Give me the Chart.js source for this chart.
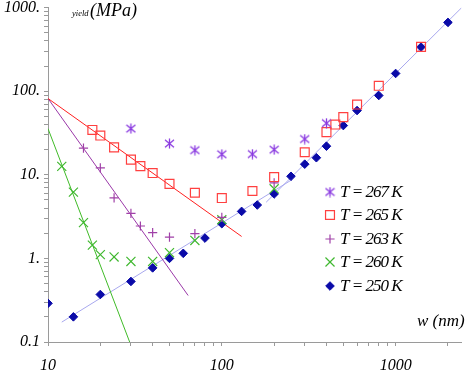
<!DOCTYPE html>
<html><head><meta charset="utf-8">
<script src="https://cdn.jsdelivr.net/npm/chart.js@4.4.1/dist/chart.umd.min.js"></script>
<style>html,body{margin:0;padding:0;background:#fff}#wrap{width:469px;height:371px;}</style>
</head><body><div id="wrap"><canvas id="c" width="469" height="371"></canvas></div>
<script>
// ---- data ----
const labels = ['T = 267 K', 'T = 265 K', 'T = 263 K', 'T = 260 K', 'T = 250 K'];

const x267 = [30, 50, 70, 100, 150, 200, 300, 400];
const y267 = [35.7, 23.6, 19.7, 17.6, 17.7, 20.0, 26.8, 41.5];

const x265 = [18, 20, 24, 30, 34, 40, 50, 70, 100, 150, 200, 300, 400, 450, 500, 600, 800, 1400];
const y265 = [34.4, 29.5, 21.3, 15.2, 12.7, 10.5, 7.8, 6.1, 5.27, 6.4, 9.4, 18.6, 32.4, 39.9, 48.9, 69.2, 116, 339];

const x263 = [16, 20, 24, 30, 34, 40, 50, 70, 100, 200];
const y263 = [20.9, 12.1, 5.3, 3.46, 2.44, 2.03, 1.80, 1.98, 3.1, 8.0];

const x260 = [12, 14, 16, 18, 20, 24, 30, 40, 50, 70, 100, 200];
const y260 = [12.6, 6.2, 2.68, 1.44, 1.11, 1.04, 0.92, 0.92, 1.17, 1.64, 2.9, 6.8];

const x250 = [10, 14, 20, 30, 40, 50, 60, 80, 100, 130, 160, 200, 250, 300, 350, 400, 500, 600, 800, 1000, 1400, 2000];
const y250 = [0.29, 0.20, 0.37, 0.53, 0.77, 1.0, 1.15, 1.75, 2.6, 3.65, 4.35, 5.9, 9.6, 13.4, 16.0, 22.0, 38.8, 58.7, 88.8, 163, 337, 665];

// fitted lines (end points)
const fit265x = [10, 130],  fit265y = [81.8, 1.83];
const fit263x = [10, 64],   fit263y = [81.8, 0.36];
const fit260x = [10, 29.5], fit260y = [35.7, 0.1];
const fit250ax = [12, 250], fit250ay = [0.173, 8.6];
const fit250bx = [180, 2400], fit250by = [4.7, 1000];

// axis ticks
const xMajor = [10, 100, 1000];
const xTickLabels = ['10', '100', '1000'];
const yMajor = [0.1, 1, 10, 100, 1000];
const yTickLabels = ['0.1', '1.', '10.', '100.', '1000.'];

// ---- styling ----
const C267 = '#8a3ae0', C265 = '#ff4040', C263 = '#a040a8', C260 = '#40b830', C250 = '#0a0aa8';
const FONT = '"Liberation Serif", "Times New Roman", serif';

function pts(xs, ys) { return xs.map((x, i) => ({ x: x, y: ys[i] })); }

function asteriskImg(size, color, lw) {
  const c = document.createElement('canvas');
  c.width = c.height = size;
  const g = c.getContext('2d');
  g.strokeStyle = color; g.lineWidth = lw;
  const m = size / 2, rv = size / 2 - 0.6, rx = size / 2 - 1, ry = size / 2 - 1.8;
  g.beginPath();
  g.moveTo(m, m - rv); g.lineTo(m, m + rv);
  g.moveTo(m - rx, m - ry); g.lineTo(m + rx, m + ry);
  g.moveTo(m - rx, m + ry); g.lineTo(m + rx, m - ry);
  g.stroke();
  return c;
}
const astImg = asteriskImg(11, C267, 1.3);

function minorTicks(lo, hi) {
  const out = [];
  for (let d = lo; d < hi; d *= 10) for (let m = 1; m < 10; m++) out.push(+(m * d).toPrecision(4));
  out.push(hi);
  return out;
}

const markerDs = (label, data, style, color, radius, bw, fill) => ({
  type: 'scatter', label, data, order: 1, showLine: false,
  pointStyle: style, pointRadius: radius, pointBorderWidth: bw,
  pointBorderColor: color, pointBackgroundColor: fill ? color : 'rgba(0,0,0,0)'
});
const lineDs = (data, color) => ({
  type: 'scatter', label: '', data, order: 10, showLine: true, borderColor: color,
  borderWidth: 1, pointRadius: 0, fill: false
});

const datasets = [
  markerDs(labels[0], pts(x267, y267), astImg, C267, 5, 1.3, false),
  markerDs(labels[1], pts(x265, y265), 'rect', C265, 6.3, 1.2, false),
  markerDs(labels[2], pts(x263, y263), 'cross', C263, 4.6, 1.2, false),
  markerDs(labels[3], pts(x260, y260), 'crossRot', C260, 6.4, 1.2, false),
  markerDs(labels[4], pts(x250, y250), 'rectRot', C250, 4.3, 1, true),
  lineDs(pts(fit265x, fit265y), '#ff2020'),
  lineDs(pts(fit263x, fit263y), '#9a38a8'),
  lineDs(pts(fit260x, fit260y), '#40bb28'),
  lineDs(pts(fit250ax, fit250ay), '#a8a8ee'),
  lineDs(pts(fit250bx, fit250by), '#a8a8ee')
];

const legendRows = [192, 215, 239, 262, 286];

const annot = {
  id: 'annot',
  afterDraw(chart) {
    const ctx = chart.ctx;
    ctx.save();
    ctx.fillStyle = '#000';
    ctx.textBaseline = 'alphabetic';
    ctx.textAlign = 'left';
    ctx.font = 'italic 8.5px ' + FONT;
    ctx.fillText('yield', 72, 16);
    ctx.font = 'italic 18px ' + FONT;
    ctx.fillText('(MPa)', 90, 16);
    ctx.font = 'italic 17px ' + FONT;
    ctx.fillText('w (nm)', 417, 326);

    // legend
    const lx = 330;
    datasets.slice(0, 5).forEach((ds, i) => {
      const y = legendRows[i];
      ctx.save();
      ctx.strokeStyle = ds.pointBorderColor;
      ctx.fillStyle = ds.pointBorderColor;
      ctx.lineWidth = ds.pointBorderWidth;
      const r = ds.pointRadius;
      ctx.beginPath();
      if (ds.pointStyle === 'rect') {
        const s = Math.SQRT1_2 * r;
        ctx.rect(lx - s, y - s, 2 * s, 2 * s); ctx.stroke();
      } else if (ds.pointStyle === 'cross') {
        ctx.moveTo(lx - r, y); ctx.lineTo(lx + r, y); ctx.moveTo(lx, y - r); ctx.lineTo(lx, y + r); ctx.stroke();
      } else if (ds.pointStyle === 'crossRot') {
        const o = r * Math.SQRT1_2;
        ctx.moveTo(lx - o, y - o); ctx.lineTo(lx + o, y + o); ctx.moveTo(lx - o, y + o); ctx.lineTo(lx + o, y - o); ctx.stroke();
      } else if (ds.pointStyle === 'rectRot') {
        ctx.moveTo(lx - r, y); ctx.lineTo(lx, y - r); ctx.lineTo(lx + r, y); ctx.lineTo(lx, y + r); ctx.closePath();
        ctx.fill(); ctx.stroke();
      } else {
        ctx.drawImage(ds.pointStyle, lx - ds.pointStyle.width / 2, y - ds.pointStyle.height / 2);
      }
      ctx.restore();
      ctx.fillStyle = '#000';
      ctx.font = 'italic 17px ' + FONT;
      ctx.textBaseline = 'middle';
      try { ctx.letterSpacing = '-1px'; } catch (e) {}
      ctx.fillText(ds.label, 340, y + 1);
      try { ctx.letterSpacing = '0px'; } catch (e) {}
    });
    ctx.restore();
  }
};

const tickFont = { family: FONT, size: 16, style: 'italic' };

new Chart(document.getElementById('c'), {
  type: 'scatter',
  data: { datasets },
  options: {
    responsive: false,
    devicePixelRatio: 1,
    animation: false,
    events: [],
    layout: { padding: { top: 7.5, left: 0, right: 0, bottom: 0 } },
    plugins: { legend: { display: false }, tooltip: { enabled: false } },
    scales: {
      x: {
        type: 'logarithmic', min: 10, max: 2390, position: 'bottom',
        grid: { display: true, drawOnChartArea: false, drawTicks: true, tickLength: 4, color: '#9a9a9a' },
        border: { display: true, color: '#9a9a9a', width: 1 },
        afterBuildTicks: s => { s.ticks = minorTicks(10, 1000).concat([2000]).map(v => ({ value: v })); },
        afterFit: s => { s.height = 29; s.paddingLeft = 0; s.paddingRight = 0; },
        ticks: {
          autoSkip: false, maxRotation: 0, padding: 10, color: '#000', font: tickFont,
          callback: v => { const k = xMajor.indexOf(v); return k >= 0 ? xTickLabels[k] : ''; }
        }
      },
      y: {
        type: 'logarithmic', min: 0.1, max: 1000, position: 'left',
        grid: { display: true, drawOnChartArea: false, drawTicks: true, tickLength: 4, color: '#9a9a9a' },
        border: { display: true, color: '#9a9a9a', width: 1 },
        afterBuildTicks: s => { s.ticks = minorTicks(0.1, 1000).map(v => ({ value: v })); },
        afterFit: s => { s.width = 48; s.paddingTop = 0; s.paddingBottom = 0; },
        ticks: {
          autoSkip: false, padding: 4, color: '#000', font: tickFont,
          callback: v => { const k = yMajor.indexOf(v); return k >= 0 ? yTickLabels[k] : ''; }
        }
      }
    }
  },
  plugins: [annot]
});
</script>
</body></html>
